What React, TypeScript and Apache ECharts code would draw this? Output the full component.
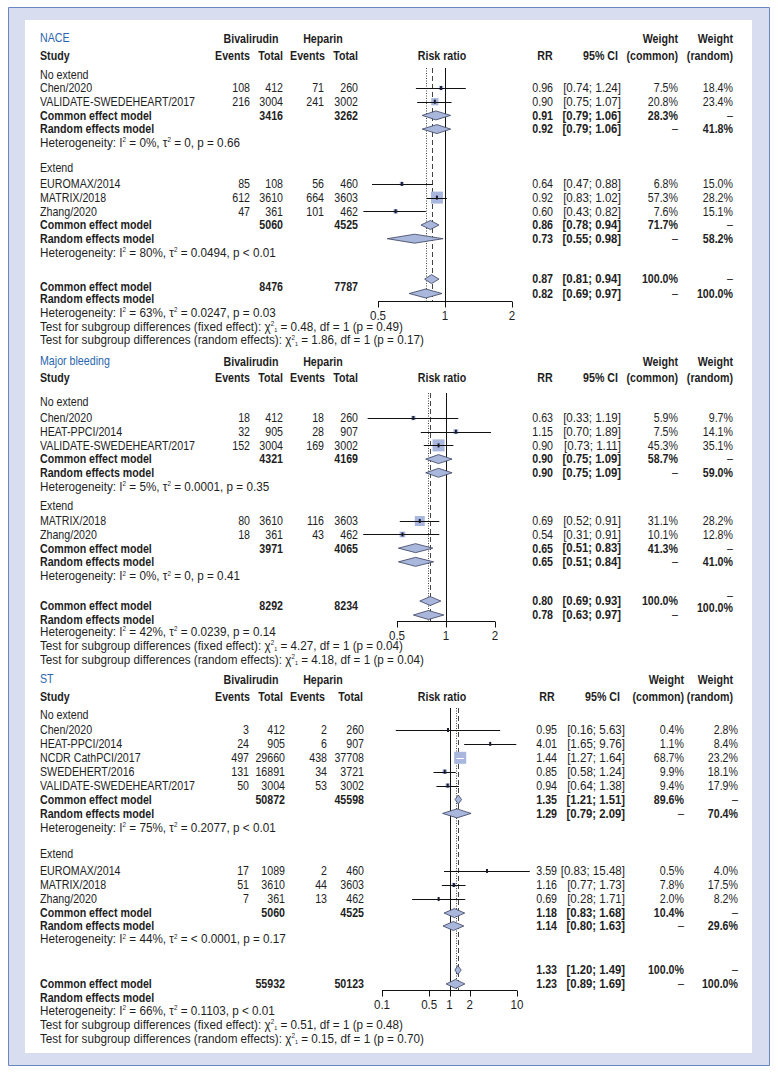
import React, { useEffect, useRef } from "react";
import * as echarts from "echarts";

// ---------------- data ----------------
const panelTitles = ["NACE", "Major bleeding", "ST"];
const subgroupLabels = ["No extend", "Extend"];

// NACE
const naceStudies = ["Chen/2020", "VALIDATE-SWEDEHEART/2017", "EUROMAX/2014", "MATRIX/2018", "Zhang/2020"];
const naceBivEvents = [108, 216, 85, 612, 47];
const naceBivTotal = [412, 3004, 108, 3610, 361];
const naceHepEvents = [71, 241, 56, 664, 101];
const naceHepTotal = [260, 3002, 460, 3603, 462];
const naceRR = [0.96, 0.9, 0.64, 0.92, 0.6];
const naceLower = [0.74, 0.75, 0.47, 0.83, 0.43];
const naceUpper = [1.24, 1.07, 0.88, 1.02, 0.82];
const naceWCommon = [7.5, 20.8, 6.8, 57.3, 7.6];
const naceWRandom = [18.4, 23.4, 15.0, 28.2, 15.1];
const naceCommonRR = [0.91, 0.86, 0.87];
const naceCommonLower = [0.79, 0.78, 0.81];
const naceCommonUpper = [1.06, 0.94, 0.94];
const naceRandomRR = [0.92, 0.73, 0.82];
const naceRandomLower = [0.79, 0.55, 0.69];
const naceRandomUpper = [1.06, 0.98, 0.97];
const naceCommonWeight = [28.3, 71.7, 100.0];
const naceRandomWeight = [41.8, 58.2, 100.0];
const naceBivTotals = [3416, 5060, 8476];
const naceHepTotals = [3262, 4525, 7787];
const naceI2 = ["0%", "80%", "63%"];
const naceTau2 = ["0", "0.0494", "0.0247"];
const naceHetP = ["= 0.66", "< 0.01", "= 0.03"];
const naceChi2 = ["0.48", "1.86"];
const naceTestP = ["0.49", "0.17"];
const naceTicks = [0.5, 1, 2];

// Major bleeding
const bleedStudies = ["Chen/2020", "HEAT-PPCI/2014", "VALIDATE-SWEDEHEART/2017", "MATRIX/2018", "Zhang/2020"];
const bleedBivEvents = [18, 32, 152, 80, 18];
const bleedBivTotal = [412, 905, 3004, 3610, 361];
const bleedHepEvents = [18, 28, 169, 116, 43];
const bleedHepTotal = [260, 907, 3002, 3603, 462];
const bleedRR = [0.63, 1.15, 0.9, 0.69, 0.54];
const bleedLower = [0.33, 0.7, 0.73, 0.52, 0.31];
const bleedUpper = [1.19, 1.89, 1.11, 0.91, 0.91];
const bleedWCommon = [5.9, 7.5, 45.3, 31.1, 10.1];
const bleedWRandom = [9.7, 14.1, 35.1, 28.2, 12.8];
const bleedCommonRR = [0.9, 0.65, 0.8];
const bleedCommonLower = [0.75, 0.51, 0.69];
const bleedCommonUpper = [1.09, 0.83, 0.93];
const bleedRandomRR = [0.9, 0.65, 0.78];
const bleedRandomLower = [0.75, 0.51, 0.63];
const bleedRandomUpper = [1.09, 0.84, 0.97];
const bleedCommonWeight = [58.7, 41.3, 100.0];
const bleedRandomWeight = [59.0, 41.0, 100.0];
const bleedBivTotals = [4321, 3971, 8292];
const bleedHepTotals = [4169, 4065, 8234];
const bleedI2 = ["5%", "0%", "42%"];
const bleedTau2 = ["0.0001", "0", "0.0239"];
const bleedHetP = ["= 0.35", "= 0.41", "= 0.14"];
const bleedChi2 = ["4.27", "4.18"];
const bleedTestP = ["0.04", "0.04"];
const bleedTicks = [0.5, 1, 2];

// ST
const stStudies = ["Chen/2020", "HEAT-PPCI/2014", "NCDR CathPCI/2017", "SWEDEHERT/2016", "VALIDATE-SWEDEHEART/2017", "EUROMAX/2014", "MATRIX/2018", "Zhang/2020"];
const stBivEvents = [3, 24, 497, 131, 50, 17, 51, 7];
const stBivTotal = [412, 905, 29660, 16891, 3004, 1089, 3610, 361];
const stHepEvents = [2, 6, 438, 34, 53, 2, 44, 13];
const stHepTotal = [260, 907, 37708, 3721, 3002, 460, 3603, 462];
const stRR = [0.95, 4.01, 1.44, 0.85, 0.94, 3.59, 1.16, 0.69];
const stLower = [0.16, 1.65, 1.27, 0.58, 0.64, 0.83, 0.77, 0.28];
const stUpper = [5.63, 9.76, 1.64, 1.24, 1.38, 15.48, 1.73, 1.71];
const stWCommon = [0.4, 1.1, 68.7, 9.9, 9.4, 0.5, 7.8, 2.0];
const stWRandom = [2.8, 8.4, 23.2, 18.1, 17.9, 4.0, 17.5, 8.2];
const stCommonRR = [1.35, 1.18, 1.33];
const stCommonLower = [1.21, 0.83, 1.2];
const stCommonUpper = [1.51, 1.68, 1.49];
const stRandomRR = [1.29, 1.14, 1.23];
const stRandomLower = [0.79, 0.8, 0.89];
const stRandomUpper = [2.09, 1.63, 1.69];
const stCommonWeight = [89.6, 10.4, 100.0];
const stRandomWeight = [70.4, 29.6, 100.0];
const stBivTotals = [50872, 5060, 55932];
const stHepTotals = [45598, 4525, 50123];
const stI2 = ["75%", "44%", "66%"];
const stTau2 = ["0.2077", "< 0.0001", "0.1103"];
const stHetP = ["< 0.01", "= 0.17", "< 0.01"];
const stChi2 = ["0.51", "0.15"];
const stTestP = ["0.48", "0.70"];
const stTicks = [0.1, 0.5, 1, 2, 10];

// ---------------- panel tables built from the arrays ----------------
const PANELS = [
  {
    title: panelTitles[0], studies: naceStudies, bivE: naceBivEvents, bivT: naceBivTotal, hepE: naceHepEvents, hepT: naceHepTotal,
    rr: naceRR, lo: naceLower, hi: naceUpper, wc: naceWCommon, wr: naceWRandom,
    cRR: naceCommonRR, cLo: naceCommonLower, cHi: naceCommonUpper, rRR: naceRandomRR, rLo: naceRandomLower, rHi: naceRandomUpper,
    cW: naceCommonWeight, rW: naceRandomWeight, bivTotals: naceBivTotals, hepTotals: naceHepTotals,
    i2: naceI2, tau2: naceTau2, hetP: naceHetP, chi2: naceChi2, testP: naceTestP, ticks: naceTicks,
  },
  {
    title: panelTitles[1], studies: bleedStudies, bivE: bleedBivEvents, bivT: bleedBivTotal, hepE: bleedHepEvents, hepT: bleedHepTotal,
    rr: bleedRR, lo: bleedLower, hi: bleedUpper, wc: bleedWCommon, wr: bleedWRandom,
    cRR: bleedCommonRR, cLo: bleedCommonLower, cHi: bleedCommonUpper, rRR: bleedRandomRR, rLo: bleedRandomLower, rHi: bleedRandomUpper,
    cW: bleedCommonWeight, rW: bleedRandomWeight, bivTotals: bleedBivTotals, hepTotals: bleedHepTotals,
    i2: bleedI2, tau2: bleedTau2, hetP: bleedHetP, chi2: bleedChi2, testP: bleedTestP, ticks: bleedTicks,
  },
  {
    title: panelTitles[2], studies: stStudies, bivE: stBivEvents, bivT: stBivTotal, hepE: stHepEvents, hepT: stHepTotal,
    rr: stRR, lo: stLower, hi: stUpper, wc: stWCommon, wr: stWRandom,
    cRR: stCommonRR, cLo: stCommonLower, cHi: stCommonUpper, rRR: stRandomRR, rLo: stRandomLower, rHi: stRandomUpper,
    cW: stCommonWeight, rW: stRandomWeight, bivTotals: stBivTotals, hepTotals: stHepTotals,
    i2: stI2, tau2: stTau2, hetP: stHetP, chi2: stChi2, testP: stTestP, ticks: stTicks,
  },
];

// ---------------- layout (positions / styles) ----------------
const COLS_A = {
  name: 40, bivE: 250, bivT: 283, hepE: 324, hepT: 358,
  bivEHead: 250, bivTHead: 283, hepEHead: 325, hepTHead: 358, bivHead: 251, hepHead: 323,
  riskLabel: 442, rrHead: 545, rr: 553, ciHead: 618, ci: 621, wcHead: 678, wc: 678, wrHead: 733, wr: 733,
};
const COLS_B = {
  name: 40, bivE: 249, bivT: 285, hepE: 327, hepT: 364,
  bivEHead: 250, bivTHead: 283, hepEHead: 325, hepTHead: 363, bivHead: 251, hepHead: 323,
  riskLabel: 442, rrHead: 547, rr: 557, ciHead: 620, ci: 625, wcHead: 684, wc: 684, wrHead: 733, wr: 738,
};
const LAYOUTS = [
  {
    base: 88, step: 13.7, plotTop: 68, axisY: 301, plotLeft: 378, plotRight: 512, logBase: 2, cols: COLS_A,
    rows: {
      title: -3.65, head1: -3.6, head2: -2.36, sub: [-0.95, 5.84], studies: [0, 1, 7, 8, 9],
      poolL: [[2, 3], [10, 11], [14.5, 15.4]], poolR: [[2, 3], [10, 11], [13.95, 15.0]],
      wrOverall: [13.95, 15.0], het: [4, 12, 16.4], tests: [17.4, 18.4],
    },
  },
  {
    base: 418, step: 13.7, plotTop: 393, axisY: 621, plotLeft: 397, plotRight: 495, logBase: 2, cols: COLS_A,
    rows: {
      title: -4.16, head1: -4.12, head2: -2.92, sub: [-1.17, 6.42], studies: [0, 1, 2, 7.52, 8.5],
      poolL: [[3, 4], [9.5, 10.5], [13.72, 14.74]], poolR: [[3, 4], [9.5, 10.5], [13.36, 14.38]],
      wrOverall: [13.0, 13.87], het: [5, 11.53, 15.6], tests: [16.6, 17.62],
    },
  },
  {
    base: 730, step: 13.9, plotTop: 708, axisY: 990, plotLeft: 382, plotRight: 517, logBase: 10, cols: COLS_B,
    rows: {
      title: -3.67, head1: -3.63, head2: -2.37, sub: [-1.08, 8.92], studies: [0, 1, 2, 3, 4, 10.14, 11.15, 12.16],
      poolL: [[5, 6], [13.17, 14.1], [18.27, 19.28]], poolR: [[5, 6], [13.17, 14.1], [17.27, 18.27]],
      wrOverall: [17.27, 18.27], het: [7, 15.04, 20.2], tests: [21.2, 22.2],
    },
  },
];

const FONT_FAMILY = '"Liberation Sans", Arial, sans-serif';
const FS = 13;
const SX = 0.82; // condensed look for ordinary text
const SX_CI = 0.89; // confidence-interval column
const SX_MATH = 0.9; // heterogeneity / test lines
const TEXT = "#1e1e1e";
const BLUE = "#2a66ad";
const SQUARE_FILL = "#a9b6de";
const DIAMOND_FILL = "#a9b7dc";
const DIAMOND_STROKE = "#38405c";
const SQ_MAX = 12;
const RICH = {
  s: { fontSize: 7, fontFamily: FONT_FAMILY, verticalAlign: "top", fill: TEXT },
  b: { fontSize: 6, fontFamily: FONT_FAMILY, verticalAlign: "bottom", fill: TEXT },
};

type Cell = { row: number; x: number; text: string; align: string; bold: boolean; color: string; rich: boolean; sx: number };

const f2 = (v: number) => v.toFixed(2);
const ciText = (lo: number, hi: number) => `[${lo.toFixed(2)}; ${hi.toFixed(2)}]`;
const pct = (w: number) => w.toFixed(1) + "%";

function buildCells(d: any, L: any): Cell[] {
  const c = L.cols;
  const r = L.rows;
  const cells: Cell[] = [];
  const add = (row: number, x: number, text: string, align = "left", bold = false, color = TEXT, rich = false, sx = SX) =>
    cells.push({ row, x, text, align, bold, color, rich, sx });
  add(r.title, c.name, d.title, "left", false, BLUE);
  add(r.head1, c.bivHead, "Bivalirudin", "center", true);
  add(r.head1, c.hepHead, "Heparin", "center", true);
  add(r.head1, c.wcHead, "Weight", "right", true);
  add(r.head1, c.wrHead, "Weight", "right", true);
  add(r.head2, c.name, "Study", "left", true);
  add(r.head2, c.bivEHead, "Events", "right", true);
  add(r.head2, c.bivTHead, "Total", "right", true);
  add(r.head2, c.hepEHead, "Events", "right", true);
  add(r.head2, c.hepTHead, "Total", "right", true);
  add(r.head2, c.riskLabel, "Risk ratio", "center", true);
  add(r.head2, c.rrHead, "RR", "center", true);
  add(r.head2, c.ciHead, "95% CI", "right", true);
  add(r.head2, c.wcHead, "(common)", "right", true);
  add(r.head2, c.wrHead, "(random)", "right", true);
  subgroupLabels.forEach((s, g) => add(r.sub[g], c.name, s));
  d.studies.forEach((name: string, i: number) => {
    const row = r.studies[i];
    add(row, c.name, name);
    add(row, c.bivE, String(d.bivE[i]), "right");
    add(row, c.bivT, String(d.bivT[i]), "right");
    add(row, c.hepE, String(d.hepE[i]), "right");
    add(row, c.hepT, String(d.hepT[i]), "right");
    add(row, c.rr, f2(d.rr[i]), "right");
    add(row, c.ci, ciText(d.lo[i], d.hi[i]), "right", false, TEXT, false, SX_CI);
    add(row, c.wc, pct(d.wc[i]), "right");
    add(row, c.wr, pct(d.wr[i]), "right");
  });
  for (let g = 0; g < 3; g++) {
    const [lc, lr] = r.poolL[g];
    const [rc, rr] = r.poolR[g];
    const wrRows = g === 2 ? r.wrOverall : [rc, rr];
    add(lc, c.name, "Common effect model", "left", true);
    add(lc, c.bivT, String(d.bivTotals[g]), "right", true);
    add(lc, c.hepT, String(d.hepTotals[g]), "right", true);
    add(rc, c.rr, f2(d.cRR[g]), "right", true);
    add(rc, c.ci, ciText(d.cLo[g], d.cHi[g]), "right", true, TEXT, false, SX_CI - 0.02);
    add(rc, c.wc, pct(d.cW[g]), "right", true);
    add(wrRows[0], c.wr, "–", "right");
    add(lr, c.name, "Random effects model", "left", true);
    add(rr, c.rr, f2(d.rRR[g]), "right", true);
    add(rr, c.ci, ciText(d.rLo[g], d.rHi[g]), "right", true, TEXT, false, SX_CI - 0.02);
    add(rr, c.wc, "–", "right");
    add(wrRows[1], c.wr, pct(d.rW[g]), "right", true);
    add(r.het[g], c.name, `Heterogeneity: I{s|2} = ${d.i2[g]}, τ{s|2} = ${d.tau2[g]}, p ${d.hetP[g]}`, "left", false, TEXT, true, SX_MATH);
  }
  add(r.tests[0], c.name, `Test for subgroup differences (fixed effect): χ{s|2}{b|1} = ${d.chi2[0]}, df = 1 (p = ${d.testP[0]})`, "left", false, TEXT, true, SX_MATH);
  add(r.tests[1], c.name, `Test for subgroup differences (random effects): χ{s|2}{b|1} = ${d.chi2[1]}, df = 1 (p = ${d.testP[1]})`, "left", false, TEXT, true, SX_MATH);
  return cells;
}

function buildOption() {
  const grid: any[] = [];
  const xAxis: any[] = [];
  const yAxis: any[] = [];
  const series: any[] = [];

  PANELS.forEach((d, pi) => {
    const L = LAYOUTS[pi];
    const yMin = (L.plotTop - L.base) / L.step;
    const yMax = (L.axisY - L.base) / L.step;
    grid.push({ left: L.plotLeft, top: L.plotTop, width: L.plotRight - L.plotLeft, height: L.axisY - L.plotTop, containLabel: false });
    xAxis.push({ type: "log", logBase: L.logBase, min: d.ticks[0], max: d.ticks[d.ticks.length - 1], gridIndex: pi, show: false });
    yAxis.push({ type: "value", min: yMin, max: yMax, inverse: true, gridIndex: pi, show: false });
    const common = { type: "custom", coordinateSystem: "cartesian2d", xAxisIndex: pi, yAxisIndex: pi, clip: false, silent: true };

    // reference lines: no effect (solid), overall common (dashed), overall random (dotted)
    series.push({
      ...common,
      data: [[1, 0], [d.cRR[2], 1], [d.rRR[2], 2]],
      encode: { x: 0, y: 1 },
      renderItem: (params: any, api: any) => {
        const v = api.value(0);
        const kind = api.value(1);
        const a = api.coord([v, yMin]);
        const b = api.coord([v, yMax]);
        const x = Math.round(a[0]) + 0.5;
        return {
          type: "line",
          shape: { x1: x, y1: a[1], x2: x, y2: b[1] },
          style: {
            stroke: kind === 0 ? "#111" : "#444",
            lineWidth: 1,
            lineDash: kind === 0 ? null : kind === 1 ? [5, 3] : [1, 1.5],
          },
        };
      },
    });

    // axis (ticks + labels + baseline)
    const ticks = d.ticks;
    series.push({
      ...common,
      data: ticks.map((t: number) => [t, yMax]),
      encode: { x: 0, y: 1 },
      renderItem: (params: any, api: any) => {
        const p = api.coord([api.value(0), yMax]);
        const x = Math.round(p[0]) + 0.5;
        const y = Math.round(p[1]) + 0.5;
        const children: any[] = [
          { type: "line", shape: { x1: x, y1: y, x2: x, y2: y + 6 }, style: { stroke: "#111", lineWidth: 1 } },
          {
            type: "text", x: p[0], y: y + 14, scaleX: SX_CI,
            style: { text: String(ticks[params.dataIndex]), fill: TEXT, fontSize: FS, fontFamily: FONT_FAMILY, align: "center", verticalAlign: "middle" },
          },
        ];
        if (params.dataIndex === 0) {
          const e = api.coord([ticks[ticks.length - 1], yMax]);
          children.push({ type: "line", shape: { x1: p[0], y1: y, x2: e[0], y2: y }, style: { stroke: "#111", lineWidth: 1 } });
        }
        return { type: "group", children };
      },
    });

    // individual studies: CI line + weighted square
    const wMax = Math.max(...d.wc);
    series.push({
      ...common,
      data: d.studies.map((_: string, i: number) => [d.rr[i], d.lo[i], d.hi[i], L.rows.studies[i], d.wc[i]]),
      encode: { x: [0, 1, 2], y: 3 },
      renderItem: (params: any, api: any) => {
        const row = api.value(3);
        const p = api.coord([api.value(0), row]);
        const a = api.coord([api.value(1), row]);
        const b = api.coord([api.value(2), row]);
        const s = SQ_MAX * Math.sqrt(api.value(4) / wMax);
        const inside = a[0] >= p[0] - s / 2 && b[0] <= p[0] + s / 2;
        const y = Math.round(p[1]) + 0.5;
        const children: any[] = [
          { type: "rect", shape: { x: p[0] - s / 2, y: p[1] - s / 2, width: s, height: s }, style: { fill: SQUARE_FILL } },
          { type: "line", shape: { x1: a[0], y1: y, x2: b[0], y2: y }, style: { stroke: inside ? "#ffffff" : "#111", lineWidth: 1 } },
        ];
        if (!inside) {
          children.push({ type: "rect", shape: { x: p[0] - 1, y: p[1] - 2, width: 2, height: 4 }, style: { fill: "#1b1b2e" } });
        }
        return { type: "group", children };
      },
    });

    // pooled estimates: diamonds
    const pooled: number[][] = [];
    for (let g = 0; g < 3; g++) {
      pooled.push([d.cRR[g], d.cLo[g], d.cHi[g], L.rows.poolR[g][0]]);
      pooled.push([d.rRR[g], d.rLo[g], d.rHi[g], L.rows.poolR[g][1]]);
    }
    series.push({
      ...common,
      data: pooled,
      encode: { x: [0, 1, 2], y: 3 },
      renderItem: (params: any, api: any) => {
        const row = api.value(3);
        const p = api.coord([api.value(0), row]);
        const a = api.coord([api.value(1), row]);
        const b = api.coord([api.value(2), row]);
        const h = 4.5;
        return {
          type: "polygon",
          shape: { points: [[a[0], p[1]], [p[0], p[1] - h], [b[0], p[1]], [p[0], p[1] + h]] },
          style: { fill: DIAMOND_FILL, stroke: DIAMOND_STROKE, lineWidth: 0.8 },
        };
      },
    });

    // table text
    const cells = buildCells(d, L);
    series.push({
      ...common,
      data: cells.map((cl, i) => [1, cl.row, i]),
      encode: { x: 0, y: 1 },
      renderItem: (params: any, api: any) => {
        const cl = cells[params.dataIndex];
        const y = api.coord([1, cl.row])[1];
        const style: any = {
          text: cl.text, fill: cl.color, fontSize: FS, fontFamily: FONT_FAMILY,
          fontWeight: cl.bold ? "bold" : "normal", align: cl.align, verticalAlign: "middle",
        };
        if (cl.rich) style.rich = RICH;
        return { type: "text", x: cl.x, y, scaleX: cl.sx, style };
      },
    });
  });

  return {
    animation: false,
    backgroundColor: "#ffffff",
    graphic: [
      { type: "rect", z: 0, silent: true, shape: { x: 8.5, y: 7.5, width: 761, height: 1058 }, style: { fill: "#d8def0", stroke: "#6a86c2", lineWidth: 1 } },
      { type: "rect", z: 1, silent: true, shape: { x: 25, y: 20, width: 727, height: 1033 }, style: { fill: "#ffffff" } },
    ],
    grid, xAxis, yAxis, series,
  };
}

export default function App() {
  const ref = useRef<HTMLDivElement>(null);
  useEffect(() => {
    const chart = echarts.init(ref.current as HTMLDivElement, null, { renderer: "svg", width: 778, height: 1073 });
    chart.setOption(buildOption() as any);
    return () => chart.dispose();
  }, []);
  return <div ref={ref} style={{ position: "absolute", left: 0, top: 0, width: 778, height: 1073 }} />;
}
